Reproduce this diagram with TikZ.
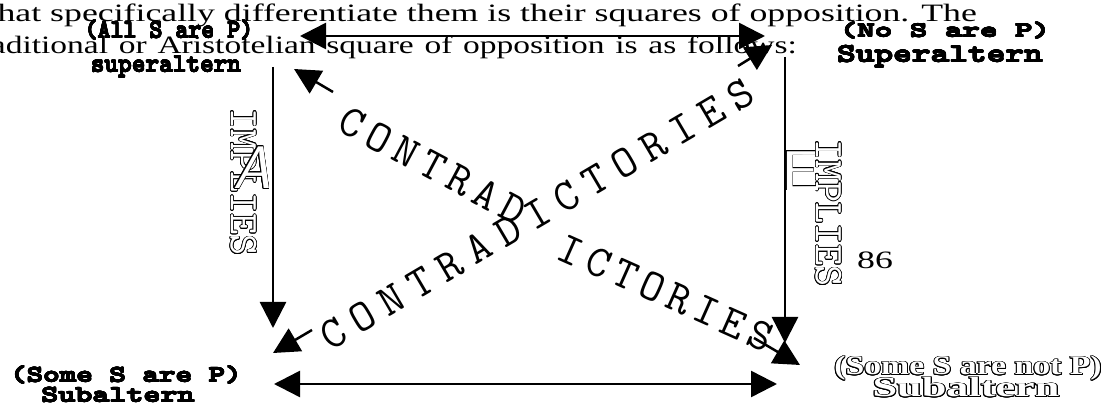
\documentclass[tikz,border=0pt]{standalone}
\usepackage{fontspec}
\setmainfont{Liberation Serif}
\usepackage{graphicx}
\usepackage[copies]{contour}
\usetikzlibrary{arrows.meta}

\contourlength{0.7pt}
\contournumber{16}

\newcommand\hstretch[2]{\scalebox{#1}[1]{#2}}
\newcommand\hollow[1]{{\color{white}\contour{black}{#1}}}
\newcommand\heavy[1]{{\contourlength{0.35pt}\contour{black}{#1}}}
\makeatletter
\newcommand\lspaced[2]{\@tfor\lsp@ch:=#2\do{\lsp@ch\kern#1}\unkern}
\makeatother

\begin{document}
\begin{tikzpicture}[
    x=1pt, y=-1pt,
    arrow/.style={{Triangle[length=26pt,width=26pt]}-{Triangle[length=26pt,width=26pt]}, line width=2.5pt},
    oneway/.style={-{Triangle[length=26pt,width=26pt]}, line width=2.5pt},
    body/.style={anchor=base east, inner sep=0pt, font=\fontsize{25}{30}\selectfont},
    corner/.style={anchor=base, inner sep=0pt, font=\ttfamily\bfseries\fontsize{#1}{#1}\selectfont},
    outcorner/.style={anchor=base, inner sep=0pt, font=\bfseries\fontsize{#1}{#1}\selectfont},
    diag/.style={inner sep=0pt, font=\ttfamily\fontsize{45}{45}\selectfont},
    implies/.style={inner sep=0pt, rotate=-90, font=\ttfamily\fontsize{41}{41}\selectfont}
]
\useasboundingbox (0,0) rectangle (1120,403);
\clip (0,0) rectangle (1120,403);

% page text behind the square
\node[body] (line1) at (977,22) {\hstretch{1.43}{that specifically differentiate them is their squares of opposition. The}};
\node[body] (line2) at (797,54) {\hstretch{1.34}{\spaceskip=8pt traditional or Aristotelian square of opposition is as follows:}};
\node[inner sep=0pt, font=\fontsize{25}{25}\selectfont] (pagenum) at (875,260) {\hstretch{1.43}{86}};

% corners
\node[corner=26] (a) at (169,38) {\hstretch{0.95}{\heavy{(All S are P)}}};
\node[corner=26] (a-name) at (166,72) {\hstretch{1.0}{\heavy{superaltern}}};
\node[corner=21] (e) at (945,37) {\hstretch{1.59}{\heavy{(No S are P)}}};
\node[corner=26] (e-name) at (940,62) {\hstretch{1.37}{\heavy{Superaltern}}};
\node[corner=23] (i) at (126,382) {\hstretch{1.37}{\heavy{(Some S are P)}}};
\node[corner=23] (i-name) at (118,402) {\hstretch{1.41}{\heavy{Subaltern}}};
\node[outcorner=27] (o) at (968,375) {\hstretch{1.25}{\hollow{(Some S are not P)}}};
\node[outcorner=28] (o-name) at (966,397) {\hstretch{1.58}{\hollow{Subaltern}}};

% arrow ends
\coordinate (ae-l) at (300,36);
\coordinate (ae-r) at (765,36);
\coordinate (ai-s) at (273,67);
\coordinate (ai-e) at (273,328);
\coordinate (eo-s) at (785,57);
\coordinate (eo-e) at (785,343);
\coordinate (io-l) at (274,384);
\coordinate (io-r) at (777,384);
\coordinate (ao-tip) at (294,69);
\coordinate (ao-stub) at (333,92);
\coordinate (oa-stub) at (754,338);
\coordinate (oa-tip) at (800,365);
\coordinate (ie-tip) at (273,353);
\coordinate (ie-stub) at (312,330);
\coordinate (ei-stub) at (738,66);
\coordinate (ei-tip) at (772,45);

% square
\draw[arrow] (ae-l) -- (ae-r);
\draw[oneway] (ai-s) -- (ai-e);
\draw[oneway] (eo-s) -- (eo-e);
\draw[arrow] (io-l) -- (io-r);

% diagonals, only the ends show
\draw[oneway] (ao-stub) -- (ao-tip);
\draw[oneway] (oa-stub) -- (oa-tip);
\draw[oneway] (ie-stub) -- (ie-tip);
\draw[oneway] (ei-stub) -- (ei-tip);

\node[diag, rotate=-28] (contrad) at (433,166) {\lspaced{7.2pt}{CONTRAD}};
\node[diag, rotate=-24] (ictories) at (666,293) {\lspaced{6.5pt}{ICTORIES}};
\node[diag, rotate=30.5] (contradictories) at (537,214) {\lspaced{10.5pt}{CONTRADICTORIES}};

% side labels
\node[implies] (implies-l) at (243,182) {\hollow{IMPLIES}};
\node[implies] (implies-r) at (828,213) {\hollow{IMPLIES}};
\node[inner sep=0pt, font=\sffamily\itshape\fontsize{60}{60}\selectfont] (stray-a) at (252,168) {\hollow{A}};
\node[inner sep=0pt, font=\sffamily\fontsize{56}{56}\selectfont] (stray-e) at (800,171) {\hstretch{1.2}{\hollow{E}}};
\end{tikzpicture}
\end{document}
